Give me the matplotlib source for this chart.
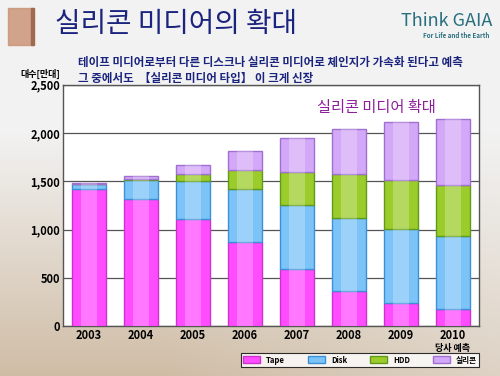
import numpy as np
import matplotlib
matplotlib.use("Agg")
import matplotlib.pyplot as plt
from matplotlib.patches import Rectangle

plt.rcParams['font.family'] = ['Noto Sans CJK KR', 'DejaVu Sans']

# =========================
# Data (units: 만대)
# =========================
years = ["2003", "2004", "2005", "2006", "2007", "2008", "2009", "2010"]
tape = [1420, 1320, 1115, 870, 590, 370, 245, 175]
disk = [50, 190, 390, 555, 665, 750, 765, 760]
hdd = [5, 20, 70, 195, 345, 455, 505, 530]
silicon = [10, 25, 95, 195, 350, 470, 595, 680]
series_names = ["Tape", "Disk", "HDD", "실리콘"]
yticks = [0, 500, 1000, 1500, 2000, 2500]

face = ["#ff4cff", "#7cc4f8", "#9ccc2c", "#d4a8f8"]
edge = ["#cc33cc", "#3d8fd8", "#5f9a1a", "#a070d0"]

fig = plt.figure(figsize=(5, 3.76), dpi=100)

# slide background: light grey with warm gradient at the bottom-left
bg = fig.add_axes([0, 0, 1, 1], zorder=-10)
gx, gy = np.meshgrid(np.linspace(0, 1, 200), np.linspace(0, 1, 150))
warm = np.clip((gy - 0.35) * 1.4, 0, 1) * np.clip(1.2 - gx * 0.6, 0, 1)
c_top = np.array([0.95, 0.95, 0.95])
c_warm = np.array([0.80, 0.72, 0.62])
img = c_top[None, None, :] * (1 - warm[..., None]) + c_warm[None, None, :] * warm[..., None]
bg.imshow(img, aspect="auto", extent=[0, 1, 0, 1], origin="upper")
bg.set_xlim(0, 1)
bg.set_ylim(0, 1)
bg.axis("off")

# title decoration
bg.add_patch(Rectangle((0.016, 0.88), 0.05, 0.1, color="#c89070", alpha=0.8))
bg.add_patch(Rectangle((0.062, 0.88), 0.006, 0.1, color="#a06a4c"))

fig.text(0.11, 0.935, "실리콘 미디어의 확대", fontsize=20, color="#1a237e",
         va="center", ha="left")
fig.text(0.985, 0.945, "Think GAIA", fontsize=13, color="#2a6f80",
         va="center", ha="right")
fig.text(0.978, 0.905, "For Life and the Earth", fontsize=4.5, color="#2a6f80",
         va="center", ha="right", fontweight="bold")

fig.text(0.155, 0.835, "테이프 미디어로부터 다른 디스크나 실리콘 미디어로 체인지가 가속화 된다고 예측",
         fontsize=8.3, color="#1a237e", fontweight="bold", va="center", ha="left")
fig.text(0.155, 0.792, "그 중에서도  【실리콘 미디어 타입】 이 크게 신장",
         fontsize=8.3, color="#1a237e", fontweight="bold", va="center", ha="left")
fig.text(0.04, 0.803, "대수[만대]", fontsize=6.5, color="black", fontweight="bold",
         va="center", ha="left")

# =========================
# Stacked bars
# =========================
ax = fig.add_axes([0.126, 0.132, 0.832, 0.6425])
ax.set_facecolor("white")

x = np.arange(len(years))
bottom = np.zeros(len(years))
handles = []
for vals, fc, ec, name in zip([tape, disk, hdd, silicon], face, edge, series_names):
    vals = np.array(vals, dtype=float)
    h = ax.bar(x, vals, bottom=bottom, width=0.67, color=fc, edgecolor=ec,
               linewidth=1.0, label=name, zorder=3)
    # lighter stripe in the middle to mimic the glossy gradient
    ax.bar(x, vals, bottom=bottom, width=0.3, color="white", alpha=0.25,
           linewidth=0, zorder=4)
    handles.append(h)
    bottom += vals

ax.set_xlim(-0.5, len(years) - 0.5)
ax.set_ylim(0, 2500)
ax.set_yticks(yticks)
ax.set_yticklabels([f"{v:,}" for v in yticks], fontsize=8, fontweight="bold")
ax.set_xticks(x)
ax.set_xticklabels(years, fontsize=8, fontweight="bold")
ax.tick_params(length=0, pad=2)
ax.grid(axis="y", color="#555555", linewidth=0.9, zorder=1)
for s in ax.spines.values():
    s.set_color("#555555")
    s.set_linewidth(1.0)

ax.text(0.895, 0.905, "실리콘 미디어 확대", transform=ax.transAxes, fontsize=11,
        color="#8e1f9a", ha="right", va="center")

fig.text(0.905, 0.074, "당사 예측", fontsize=6.5, fontweight="bold", ha="center", va="center")

leg = fig.legend(handles=handles, labels=series_names, loc="center",
                 bbox_to_anchor=(0.482, 0.021, 0.476, 0.043), mode="expand",
                 ncol=4, frameon=True, fancybox=False, edgecolor="black",
                 handlelength=2.2, handleheight=1.0, borderpad=0.3,
                 borderaxespad=0, prop={"weight": "bold", "size": 5.5})
leg.get_frame().set_linewidth(0.8)

fig.savefig("out.png", dpi=100)
